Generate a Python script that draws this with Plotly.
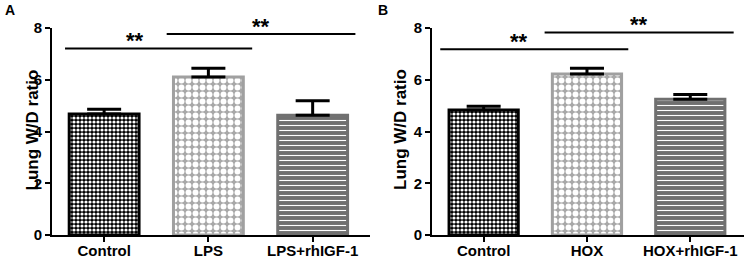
import plotly.graph_objects as go

# ---- data ----
categories_a = ["Control", "LPS", "LPS+rhIGF-1"]
means_a = [4.68, 6.11, 4.63]
err_a = [0.18, 0.33, 0.56]

categories_b = ["Control", "HOX", "HOX+rhIGF-1"]
means_b = [4.83, 6.22, 5.25]
err_b = [0.15, 0.22, 0.18]

y_ticks = [0, 2, 4, 6, 8]

FONT = "Liberation Sans"

fills = [
    dict(shape=".", bgcolor="#000000", fgcolor="#ffffff", size=4, solidity=0.5, fillmode="replace"),
    dict(shape=".", bgcolor="#a8a8a8", fgcolor="#ffffff", size=7, solidity=0.55, fillmode="replace"),
    dict(shape="-", bgcolor="#707070", fgcolor="#ffffff", size=5, solidity=0.22, fillmode="replace"),
]
outline = ["#000000", "#a0a0a0", "#707070"]

fig = go.Figure()


def add_panel(cats, means, errs, xa, ya):
    for i, (c, m, e) in enumerate(zip(cats, means, errs)):
        fig.add_trace(go.Bar(
            x=[c], y=[m], xaxis=xa, yaxis=ya,
            marker=dict(color=fills[i]["bgcolor"], pattern=fills[i],
                        line=dict(color=outline[i], width=3)),
            error_y=dict(type="data", symmetric=False, array=[e], arrayminus=[0],
                         color="#000000", thickness=3, width=17),
            width=0.67, showlegend=False, hoverinfo="skip",
        ))


add_panel(categories_a, means_a, err_a, "x", "y")
add_panel(categories_b, means_b, err_b, "x2", "y2")

H = 259
W = 744
ydom = [24 / H, 231 / H]

axis_common = dict(
    showline=True, linecolor="#000000", linewidth=2, ticks="outside",
    ticklen=5, tickwidth=2, tickcolor="#000000", showgrid=False, zeroline=False,
    automargin=False,
)
xfont = dict(family=FONT, size=15, color="#000000", weight=700)
yfont = dict(family=FONT, size=15, color="#000000", weight=700)

fig.update_layout(
    template="none",
    width=W, height=H, margin=dict(l=0, r=0, t=0, b=0, autoexpand=False),
    paper_bgcolor="white", plot_bgcolor="white", barmode="overlay",
    xaxis=dict(domain=[52 / W, 370 / W], anchor="y", range=[-0.5, 2.55], tickfont=xfont,
               ticklabelstandoff=-4,
               tickvals=categories_a, ticktext=categories_a, **axis_common),
    yaxis=dict(domain=ydom, anchor="x", range=[0, 8], tickvals=y_ticks, tickfont=yfont,
               **axis_common),
    xaxis2=dict(domain=[432 / W, 1.0], anchor="y2", range=[-0.5, 2.52], tickfont=xfont,
                ticklabelstandoff=-4,
                tickvals=categories_b, ticktext=categories_b, **axis_common),
    yaxis2=dict(domain=ydom, anchor="x2", range=[0, 8], tickvals=y_ticks, tickfont=yfont,
                **axis_common),
)

# significance brackets
sig = [
    ("x", "y", -0.375, 1.42, 7.21, 0.3),
    ("x", "y", 0.6, 2.41, 7.77, 1.5),
    ("x2", "y2", -0.42, 1.40, 7.18, 0.34),
    ("x2", "y2", 0.59, 2.42, 7.83, 1.5),
]
for xr, yr, x0, x1, yv, sx in sig:
    fig.add_shape(type="line", xref=xr, yref=yr, x0=x0, x1=x1, y0=yv, y1=yv,
                  line=dict(color="#000000", width=2))
    fig.add_annotation(xref=xr, yref=yr, x=sx, y=yv, text="**", showarrow=False,
                       yanchor="bottom", yshift=-7,
                       font=dict(family=FONT, size=22, color="#000000", weight=700))

# y titles and panel labels
for xpos in [20, 400]:
    fig.add_annotation(xref="paper", yref="paper", x=xpos / W, y=1 - 130 / H,
                       text="Lung W/D ratio", textangle=-90, showarrow=False,
                       font=dict(family=FONT, size=17, color="#000000", weight=700))
for xpos, lab in [(3, "A"), (376, "B")]:
    fig.add_annotation(xref="paper", yref="paper", x=xpos / W, y=1.0,
                       xanchor="left", yanchor="top", text=lab, showarrow=False,
                       font=dict(family=FONT, size=14, color="#000000", weight=700))

fig.write_html("out.html", config={"displayModeBar": False},
               post_script="document.body.style.margin='0px';document.body.style.overflow='hidden';")
